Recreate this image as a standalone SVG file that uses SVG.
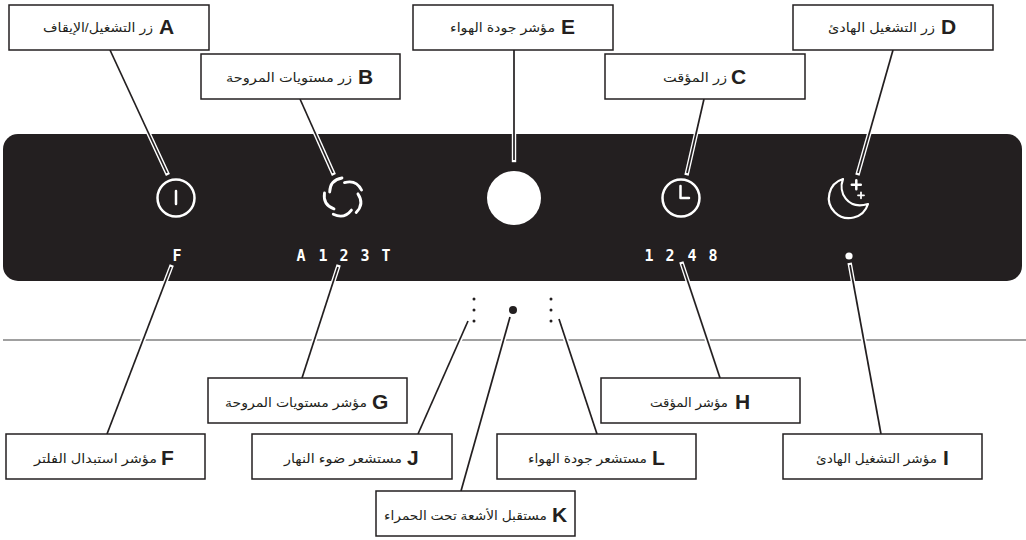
<svg xmlns="http://www.w3.org/2000/svg" width="1026" height="540" viewBox="0 0 1026 540">
<style>
text{fill:#231f20}
.box{fill:#fff;stroke:#231f20;stroke-width:1.5}
.ltr{font:bold 21px "Liberation Sans",Arial,sans-serif}
.ar{font:12.5px "Liberation Sans","DejaVu Sans",sans-serif;direction:rtl;text-anchor:start}
.ic{fill:none;stroke:#fff;stroke-width:2.5;stroke-linecap:round;stroke-linejoin:round}
.seg{font:bold 15px "DejaVu Sans Mono","Liberation Mono",monospace;fill:#fff;text-anchor:middle}
.case{fill:none;stroke:#fff;stroke-width:4.4;stroke-linecap:square}
.halo{fill:none;stroke:#fff;stroke-width:5}
.lines{fill:none;stroke:#231f20;stroke-width:1.7}
</style>
<defs>
<clipPath id="pc"><rect x="3" y="134" width="1019" height="147"/></clipPath>
<clipPath id="gc"><rect x="0" y="337" width="1026" height="6"/></clipPath>
<g id="cl">
<path d="M110 50L167 173"/>
<path d="M300 99L333 173"/>
<path d="M704 99L687 173"/>
<path d="M893 50L858 173"/>
<path d="M514 50V160"/>
<path d="M171 267L107 434"/>
<path d="M338 267L302 378"/>
<path d="M682 264L720 378"/>
<path d="M850 265L881 434"/>
<path d="M468 321L418 434"/>
<path d="M510 317L461 491"/>
<path d="M559 319L597 434"/>
</g>
</defs>
<rect width="1026" height="540" fill="#fff"/>
<g id="panel">
<rect x="3" y="134" width="1019" height="147" rx="15" fill="#231f20"/>
<path d="M3 340H1026" stroke="#808080" stroke-width="1.3"/>
</g>
<g id="connectors">
<use href="#cl" class="case" clip-path="url(#pc)"/>
<use href="#cl" class="halo" clip-path="url(#gc)"/>
<use href="#cl" class="lines"/>
</g>
<g id="power"><circle class="ic" cx="176" cy="198" r="18.5"/><path class="ic" d="M176 191V204"/></g>
<g id="fan" class="ic" style="stroke-width:2.8">
<path d="M342 178Q330 180 329.7 192"/>
<path d="M342 178Q330 180 329.7 192" transform="rotate(72 343.5 197.5)"/>
<path d="M342 178Q330 180 329.7 192" transform="rotate(144 343.5 197.5)"/>
<path d="M342 178Q330 180 329.7 192" transform="rotate(216 343.5 197.5)"/>
<path d="M342 178Q330 180 329.7 192" transform="rotate(288 343.5 197.5)"/>
</g>
<g id="air"><circle cx="514" cy="198" r="27" fill="#fff"/></g>
<g id="clock"><circle class="ic" cx="681" cy="198" r="18.5"/><path class="ic" d="M680.5 186V198H689"/></g>
<g id="moon" class="ic">
<path d="M843 179A20 20 0 1 0 868 204C847 210 838 192 843 179Z" stroke-width="2.2"/>
<path d="M856.3 180.2V189.2M851.8 184.7H860.8"/>
<path d="M861 192.3V198.3M858 195.3H864" stroke-width="1.8"/>
</g>
<g id="indicators">
<text class="seg" x="177" y="261">F</text>
<text class="seg" x="301" y="261">A</text><text class="seg" x="323" y="261">1</text><text class="seg" x="344" y="261">2</text><text class="seg" x="365" y="261">3</text><text class="seg" x="386" y="261">T</text>
<text class="seg" x="649" y="261">1</text><text class="seg" x="670" y="261">2</text><text class="seg" x="692" y="261">4</text><text class="seg" x="713" y="261">8</text>
<circle cx="849" cy="256" r="3.6" fill="#fff"/>
</g>
<g id="sensors" fill="#231f20">
<circle cx="474" cy="299" r="1.5"/><circle cx="474" cy="310" r="1.5"/><circle cx="474" cy="321" r="1.5"/>
<circle cx="513" cy="310" r="4"/>
<circle cx="551" cy="299" r="1.5"/><circle cx="551" cy="310" r="1.5"/><circle cx="551" cy="321" r="1.5"/>
</g>
<g id="node-a"><rect class="box" x="9" y="5" width="200" height="45"/><text class="ltr" x="159" y="34">A</text><text class="ar" x="153" y="32" textLength="110" lengthAdjust="spacingAndGlyphs">زر التشغيل/الإيقاف</text></g>
<g id="node-b"><rect class="box" x="201" y="54" width="199" height="45"/><text class="ltr" x="358" y="84">B</text><text class="ar" x="352" y="82" textLength="126" lengthAdjust="spacingAndGlyphs">زر مستويات المروحة</text></g>
<g id="node-e"><rect class="box" x="413" y="5" width="200" height="45"/><text class="ltr" x="561" y="34">E</text><text class="ar" x="555" y="32" textLength="105" lengthAdjust="spacingAndGlyphs">مؤشر جودة الهواء</text></g>
<g id="node-c"><rect class="box" x="605" y="54" width="200" height="45"/><text class="ltr" x="731" y="84">C</text><text class="ar" x="727" y="82" textLength="64" lengthAdjust="spacingAndGlyphs">زر المؤقت</text></g>
<g id="node-d"><rect class="box" x="793" y="5" width="200" height="45"/><text class="ltr" x="941" y="34">D</text><text class="ar" x="935" y="32" textLength="107" lengthAdjust="spacingAndGlyphs">زر التشغيل الهادئ</text></g>
<g id="node-g"><rect class="box" x="208" y="378" width="199" height="45"/><text class="ltr" x="372" y="409">G</text><text class="ar" x="367" y="407" textLength="142" lengthAdjust="spacingAndGlyphs">مؤشر مستويات المروحة</text></g>
<g id="node-h"><rect class="box" x="601" y="378" width="199" height="45"/><text class="ltr" x="735" y="409">H</text><text class="ar" x="728" y="407" textLength="78" lengthAdjust="spacingAndGlyphs">مؤشر المؤقت</text></g>
<g id="node-f"><rect class="box" x="6" y="434" width="199" height="45"/><text class="ltr" x="161" y="465">F</text><text class="ar" x="157" y="463" textLength="123" lengthAdjust="spacingAndGlyphs">مؤشر استبدال الفلتر</text></g>
<g id="node-j"><rect class="box" x="252" y="434" width="200" height="45"/><text class="ltr" x="407" y="465">J</text><text class="ar" x="402" y="463" textLength="118" lengthAdjust="spacingAndGlyphs">مستشعر ضوء النهار</text></g>
<g id="node-l"><rect class="box" x="497" y="434" width="199" height="45"/><text class="ltr" x="652" y="465">L</text><text class="ar" x="647" y="463" textLength="119" lengthAdjust="spacingAndGlyphs">مستشعر جودة الهواء</text></g>
<g id="node-i"><rect class="box" x="783" y="434" width="199" height="45"/><text class="ltr" x="943" y="465">I</text><text class="ar" x="937" y="463" textLength="121" lengthAdjust="spacingAndGlyphs">مؤشر التشغيل الهادئ</text></g>
<g id="node-k"><rect class="box" x="376" y="491" width="199" height="45"/><text class="ltr" x="552" y="522">K</text><text class="ar" x="547" y="520" textLength="163" lengthAdjust="spacingAndGlyphs">مستقبل الأشعة تحت الحمراء</text></g>
</svg>
